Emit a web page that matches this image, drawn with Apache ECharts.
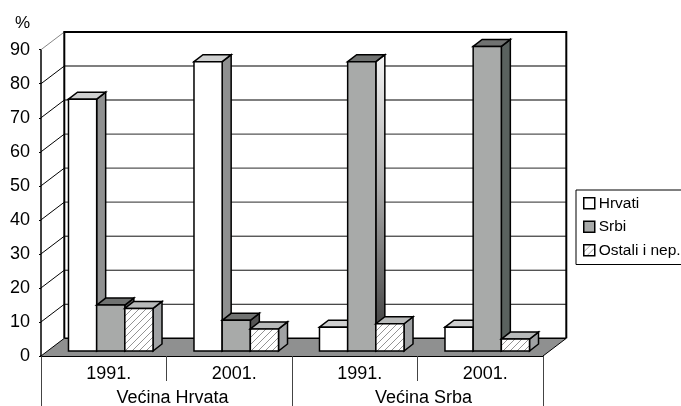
<!DOCTYPE html>
<html><head><meta charset="utf-8">
<style>html,body{margin:0;padding:0;background:#fff}#c{width:681px;height:406px}</style>
<script src="https://cdn.jsdelivr.net/npm/echarts@6/dist/echarts.min.js"></script>
</head><body><div id="c"></div>
<script>
const years = ['1991.', '2001.', '1991.', '2001.'];
const groups = ['Većina Hrvata', 'Većina Srba'];
const ticks = [0, 10, 20, 30, 40, 50, 60, 70, 80, 90];
const hrvati = [74, 85, 7, 7];
const srbi = [13.5, 9, 85, 89.5];
const ostali = [12.5, 6.5, 8, 3.5];

const FONT = '"Liberation Sans", Arial, sans-serif';
const DX = 23.3, DY = 17.7, BX = 9, BY = 7, LIFT = 5;

const hc = document.createElement('canvas'); hc.width = 7; hc.height = 7;
const g = hc.getContext('2d');
g.fillStyle = '#fff'; g.fillRect(0, 0, 7, 7);
g.strokeStyle = '#666'; g.lineWidth = 0.7;
g.beginPath(); g.moveTo(-1, 8); g.lineTo(8, -1); g.moveTo(-4, 4); g.lineTo(4, -4); g.moveTo(3, 11); g.lineTo(11, 3); g.stroke();
const hatch = { image: hc, repeat: 'repeat' };

const sideGrad = { type: 'linear', x: 0, y: 0, x2: 0, y2: 1, colorStops: [{ offset: 0, color: '#f4f4f4' }, { offset: 0.45, color: '#aaa' }, { offset: 1, color: '#333' }] };
const looks = [
  { front: '#fff', top: '#cfd0d0', side: ['#8f9090', '#8f9090', '#8f9090', '#8f9090'] },
  { front: '#a8aaa9', top: '#707271', side: ['#555', '#555', sideGrad, '#5a625f'] },
  { front: hatch, top: '#b8baba', side: ['#a0a2a4', '#a0a2a4', '#a0a2a4', '#a0a2a4'] }
];

function bar(si) {
  return function (params, api) {
    const c = api.coord([api.value(0), api.value(1)]);
    const base = api.coord([api.value(0), 0]);
    const w = api.size([1, 0])[0] * 0.2245;
    const x = c[0] + 7 + (si - 1.5) * w;
    const y = c[1] - LIFT, b = base[1] - LIFT;
    const l = looks[si];
    const st = { stroke: '#000', lineWidth: 1.5, lineJoin: 'miter' };
    return { type: 'group', children: [
      { type: 'polygon', shape: { points: [[x + w, y], [x + w + BX, y - BY], [x + w + BX, b - BY], [x + w, b]] }, style: { ...st, fill: l.side[params.dataIndex] } },
      { type: 'polygon', shape: { points: [[x, y], [x + BX, y - BY], [x + w + BX, y - BY], [x + w, y]] }, style: { ...st, fill: l.top } },
      { type: 'rect', shape: { x: x, y: y, width: w, height: b - y }, style: { ...st, fill: l.front } }
    ] };
  };
}
function pairs(arr) { return arr.map((v, i) => [i, v]); }

const option = {
  animation: false,
  backgroundColor: '#fff',
  textStyle: { fontFamily: FONT, color: '#000' },
  grid: { left: 41, right: 138, top: 49.7, bottom: 50, outerBoundsMode: 'none' },
  legend: {
    orient: 'vertical', left: 576, top: 190, padding: [4, 40, 5, 7], itemGap: 5,
    itemWidth: 11, itemHeight: 11, itemStyle: { borderColor: '#000', borderWidth: 1.5 },
    backgroundColor: '#fff', borderColor: '#000', borderWidth: 1, selectedMode: false,
    textStyle: { fontFamily: FONT, fontSize: 15.5, color: '#000', padding: [0, 0, 0, -1], lineHeight: 18.5 },
    data: [
      { name: 'Hrvati', icon: 'rect', itemStyle: { color: '#fff' } },
      { name: 'Srbi', icon: 'rect', itemStyle: { color: '#a8aaa9' } },
      { name: 'Ostali i nep.', icon: 'rect', itemStyle: { color: hatch } }
    ]
  },
  xAxis: [
    { type: 'category', data: years, position: 'bottom',
      axisLine: { lineStyle: { color: '#000', width: 2 } },
      axisTick: { show: true, length: 25, lineStyle: { color: '#444', width: 1 } },
      axisLabel: { fontFamily: FONT, fontSize: 18, color: '#000', margin: 9, padding: [0, 0, 0, 10], interval: 0 } },
    { type: 'category', data: groups, position: 'bottom',
      axisLine: { show: false },
      axisTick: { show: true, length: 50, lineStyle: { color: '#444', width: 1 } },
      axisLabel: { fontFamily: FONT, fontSize: 18, color: '#000', margin: 33, padding: [0, 0, 0, 12], interval: 0 } }
  ],
  yAxis: {
    type: 'value', min: 0, max: 90, interval: 10,
    name: '%', nameGap: 18, nameTextStyle: { fontFamily: FONT, fontSize: 17, color: '#000', align: 'right', padding: [0, 11, 0, 0] },
    axisLine: { show: true, lineStyle: { color: '#000', width: 1.5 } },
    axisTick: { show: true, length: 2, lineStyle: { color: '#000' } },
    splitLine: { show: false },
    axisLabel: { fontFamily: FONT, fontSize: 18, color: '#000', margin: 11 }
  },
  series: [
    { type: 'custom', name: 'walls', silent: true, data: [[0, 0]], z: 1, renderItem: function (p, api) {
        const cs = p.coordSys;
        const y0 = api.coord([0, 0])[1], y9 = api.coord([0, 90])[1];
        const l = cs.x, r = cs.x + cs.width;
        return { type: 'group', children: [
          { type: 'rect', shape: { x: l + DX, y: y9 - DY, width: cs.width, height: y0 - y9 }, style: { fill: '#fff', stroke: null } },
          { type: 'polygon', shape: { points: [[l, y0], [l + DX, y0 - DY], [r + DX, y0 - DY], [r, y0]] }, style: { fill: '#8f9090', stroke: null } }
        ] };
      } },
    { type: 'custom', name: 'lines', silent: true, data: pairs(ticks).map(d => [0, d[1]]), z: 2, renderItem: function (p, api) {
        const cs = p.coordSys, v = api.value(1);
        const y = api.coord([0, v])[1], l = cs.x, r = cs.x + cs.width;
        const k = [];
        k.push({ type: 'line', shape: { x1: l, y1: y, x2: l + DX, y2: y - DY }, style: { stroke: v === 90 ? '#888' : '#000', lineWidth: 1 } });
        if (v > 0 && v < 90) k.push({ type: 'line', shape: { x1: l + DX, y1: y - DY, x2: r + DX, y2: y - DY }, style: { stroke: v > 30 ? '#555' : '#111', lineWidth: v > 30 ? 1.4 : 1 } });
        if (v === 0) {
          k.push({ type: 'line', shape: { x1: l + DX, y1: y - DY, x2: r + DX, y2: y - DY }, style: { stroke: '#000', lineWidth: 1.5 } });
          k.push({ type: 'line', shape: { x1: r, y1: y, x2: r + DX, y2: y - DY }, style: { stroke: '#000', lineWidth: 1 } });
        }
        if (v === 90) k.push({ type: 'polyline', shape: { points: [[l + DX, cs.y + cs.height - DY], [l + DX, y - DY], [r + DX, y - DY], [r + DX, cs.y + cs.height - DY]] }, style: { stroke: '#000', lineWidth: 2, fill: null } });
        return { type: 'group', children: k };
      } },
    { type: 'custom', name: 'Hrvati', data: pairs(hrvati), z: 3, itemStyle: { color: '#fff' }, renderItem: bar(0) },
    { type: 'custom', name: 'Srbi', data: pairs(srbi), z: 4, itemStyle: { color: '#a8aaa9' }, renderItem: bar(1) },
    { type: 'custom', name: 'Ostali i nep.', data: pairs(ostali), z: 5, itemStyle: { color: '#ccc' }, renderItem: bar(2) }
  ]
};
echarts.init(document.getElementById('c'), null, { renderer: 'canvas' }).setOption(option);
</script></body></html>
